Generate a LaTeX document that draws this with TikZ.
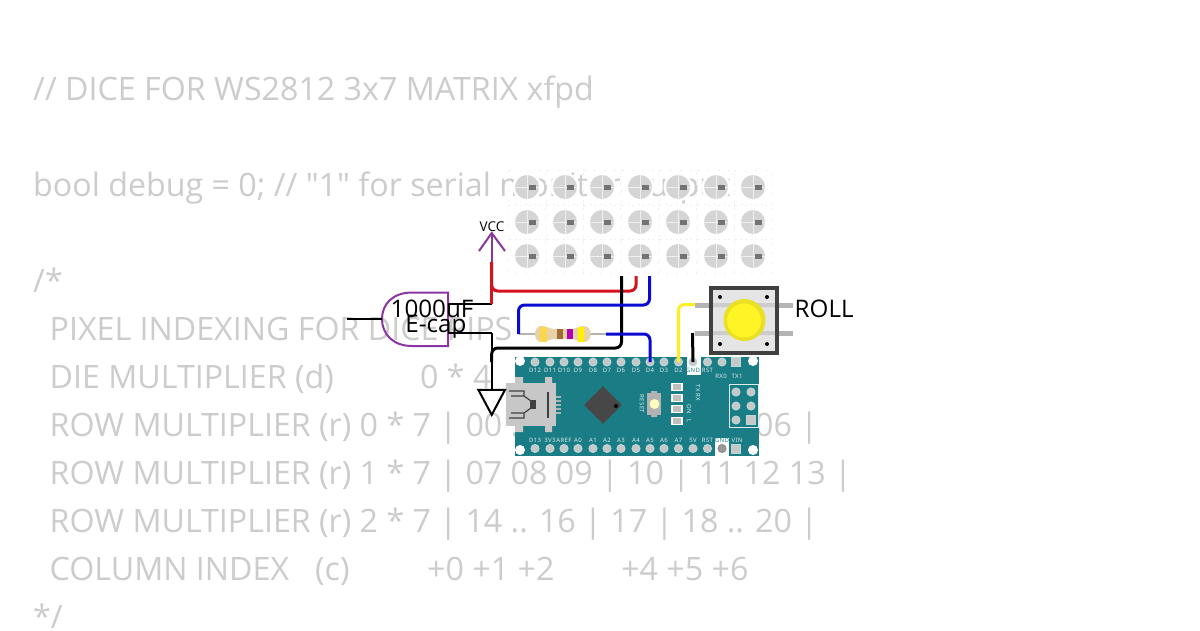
\documentclass[tikz,border=0pt]{standalone}
\usepackage{fontspec}
\setmainfont{Open Sans}
\newfontfamily\codefont{Open Sans}
\newfontfamily\silkfont{Noto Sans}[LetterSpace=6]
\usetikzlibrary{shapes.geometric}
\definecolor{codegray}{HTML}{CCCCCC}
\definecolor{boardteal}{HTML}{1A7D85}
\definecolor{capviolet}{HTML}{8A35A0}
\definecolor{wirered}{HTML}{D8121C}
\definecolor{wireblue}{HTML}{0A0AD2}
\definecolor{wireyellow}{HTML}{FFEE22}
\definecolor{pingray}{HTML}{B4B4B4}
\definecolor{silk}{HTML}{DCEBEC}
\definecolor{restan}{HTML}{E8D3A8}
\tikzstyle{code}=[anchor=base west,inner sep=0,text=codegray,font=\codefont\fontsize{32.2}{32}\selectfont]
\tikzstyle{label}=[inner sep=0,text=black,font=\fontsize{24.2}{24}\selectfont,anchor=base]
\tikzstyle{wire}=[line width=3pt,rounded corners=6pt]
\tikzstyle{lead}=[line width=2pt,draw=black]
\tikzstyle{led disc}=[circle,inner sep=0,minimum size=24pt,fill=black!17]
\tikzstyle{pin}=[circle,inner sep=0,minimum size=8pt,fill=black!22,draw=white!70!boardteal,line width=1pt]
\tikzstyle{silk text}=[inner sep=0,text=silk,font=\silkfont\bfseries\fontsize{6}{6}\selectfont]
\tikzstyle{board led}=[fill=black!25,draw=white,line width=1.5pt]
\begin{document}
\begin{tikzpicture}[x=1pt,y=-1pt,line cap=butt]
  \useasboundingbox (0,0) rectangle (1200,630);
  \fill[white] (0,0) rectangle (1200,630);

  % sketch text behind the parts
  \node[code] (line1) at (33,100) {// DICE FOR WS2812 3x7 MATRIX xfpd};
  \node[code] (line2) at (33,196) {bool debug = 0; // "1" for serial monitor output};
  \node[code] (line3) at (33,292) {/*};
  \node[code] (line4) at (49.5,340) {PIXEL INDEXING FOR DICE PIPS};
  \node[code] (line5) at (49.5,388) {DIE MULTIPLIER (d)};
  \node[code] (line5b) at (420,388) {0 * 4};
  \node[code] (line6) at (49.5,436) {ROW MULTIPLIER (r) 0 * 7 | 00 .. 02 | 03 | 04 .. 06 |};
  \node[code] (line7) at (49.5,484) {ROW MULTIPLIER (r) 1 * 7 | 07 08 09 | 10 | 11 12 13 |};
  \node[code] (line8) at (49.5,532) {ROW MULTIPLIER (r) 2 * 7 | 14 .. 16 | 17 | 18 .. 20 |};
  \node[code] (line9) at (49.5,580) {COLUMN INDEX};
  \node[code] (line9b) at (315,580) {(c)};
  \node[code] (line9c) at (427,580) {+0 +1 +2};
  \node[code] (line9d) at (621,580) {+4 +5 +6};
  \node[code] (line10) at (33,628) {*/};

  % led matrix
  \foreach \r/\y in {0/187,1/222,2/256}
    \foreach \c/\x in {0/527,1/565,2/602,3/640,4/678,5/716,6/753} {
      \fill[white] (\x,\y) circle (14.5);
      \draw[black!6,line width=.7pt,dash pattern=on 2pt off 8pt] (\x-18.5,\y-17) rectangle (\x+18.5,\y+17);
      \node[led disc] (led\r\c) at (\x,\y) {};
      \draw[black!6,line width=.8pt] (led\r\c.west) -- (led\r\c.east) (led\r\c.north) -- (led\r\c.south);
      \fill[black!55] (\x+2,\y-2.5) rectangle (\x+9,\y+2.5);
    }
  \coordinate (ledGnd) at (621.5,276);
  \coordinate (ledVcc) at (636,276);
  \coordinate (ledDin) at (649.5,276);

  % nano board
  \fill[boardteal] (514.5,356.5) rectangle (759,455.5);
  \fill[white] (687,356.5) rectangle (701,375);
  \fill[white] (715,438) rectangle (729,455.5);
  \foreach \n/\x/\t in {12/535/D12,11/550/D11,10/564/D10,9/578/D9,8/593/D8,7/607/D7,6/621/D6,5/636/D5,4/650/D4,3/664/D3,2/678.5/D2,1/693/GND,0/707.5/RST} {
    \node[pin] (pin\t) at (\x,362) {};
    \ifnum\n=1
      \node[silk text,text=boardteal] (txt\t) at (\x,370.5) {\t};
    \else
      \node[silk text] (txt\t) at (\x,370.5) {\t};
    \fi
  }
  \node[pin] (pinRX) at (722,362) {};
  \node[pin,rectangle,minimum size=9pt] (pinTX) at (736,362) {};
  \node[silk text] (txtRX) at (721,376) {RX0};
  \node[silk text] (txtTX) at (737,376) {TX1};
  \foreach \x/\t in {535/D13,550/3V3,564/AREF,578/A0,593/A1,607/A2,621/A3,636/A4,650/A5,664/A6,678.5/A7,693/5V,707.5/RST} {
    \node[pin] (low\t) at (\x,448.5) {};
    \node[silk text] (lowtxt\t) at (\x,440.5) {\t};
  }
  \node[pin,fill=black!40,draw=black!45] (lowGND) at (722,448.5) {};
  \node[silk text,text=boardteal] (lowtxtGND) at (722,440.5) {GND};
  \node[pin,rectangle,minimum size=9pt] (lowVIN) at (736,448.5) {};
  \node[silk text] (lowtxtVIN) at (737,440.5) {VIN};
  \foreach \x/\y in {520/361,520/450,753/361,753/450}
    \fill[white] (\x,\y) circle (5);

  % icsp header
  \draw[silk,line width=.8pt] (729.5,384) rectangle (758,427);
  \foreach \x/\y in {736/392,751/392,736/406,751/406,736/420}
    \node[pin] (icsp\x\y) at (\x,\y) {};
  \node[pin,rectangle,minimum size=9pt] (icsp751420) at (751,420) {};

  % mcu, usb, reset, status leds
  \node[diamond,fill=black!72,inner sep=0,minimum size=38pt] (mcu) at (603,405) {};
  \fill[black] (616,406) circle (2);
  \fill[black!22] (515,377) rectangle (523,383) (545,377) rectangle (552,383)
    (515,426) rectangle (523,432) (545,426) rectangle (552,432);
  \foreach \y in {397,401,405,409,413}
    \fill[black!30] (556,\y-1) rectangle (561,\y+1);
  \fill[black!22] (506,383) rectangle (556,426);
  \draw[black!75,line width=1.3pt] (548,392) -- (548,418);
  \draw[black!75,line width=1.2pt] (509,391) -- (524,391) -- (524,396) -- (511,396)
    (509,418) -- (524,418) -- (524,413) -- (511,413)
    (524,396) -- (531,401) (524,413) -- (531,408);
  \fill[black!75] (530,400) rectangle (536,409);
  \fill[black!30] (651,391) rectangle (657,393) (651,415) rectangle (657,417);
  \fill[black!30] (647,393) rectangle (661,415);
  \fill[yellow!25!white] (654.5,404) circle (5);
  \node[silk text,rotate=-90] (txtReset) at (642,404) {RESET};
  \foreach \y in {387,398,409,421}
    \draw[board led] (672,\y-3.5) rectangle (682,\y+3.5);
  \node[silk text,rotate=-90] (txtTXRX) at (698,393) {TX RX};
  \node[silk text,rotate=-90] (txtON) at (689,409) {ON};
  \node[silk text,rotate=-90] (txtL) at (689,421) {L};

  % roll button
  \foreach \y in {305,333} {
    \draw[pingray,line width=5pt] (695,\y) -- (793,\y);
  }
  \coordinate (btnA) at (695,304.5);
  \coordinate (btnB) at (692.5,333);
  \fill[black!10] (711,288) rectangle (777,353);
  \fill[black!20] (711,303) rectangle (777,307) (711,331) rectangle (777,335);
  \draw[black!75,line width=4pt] (711,288) rectangle (777,353);
  \foreach \x/\y in {720/297,767/297,720/344,767/344}
    \fill[black] (\x,\y) circle (2);
  \fill[yellow!90!black!95!white] (744.5,320) circle (21);
  \fill[yellow!85!white] (744,320.5) circle (17);
  \node[label,anchor=base west] (rollLabel) at (794.5,317) {ROLL};

  % resistor
  \coordinate (resA) at (518.5,334);
  \coordinate (resB) at (606,334);
  \draw[pingray,line width=2.5pt] (resA) -- (resB);
  \fill[restan] (541,326) .. controls (533,326) and (533,342) .. (541,342)
    .. controls (548,342) and (549,339) .. (553,339) -- (573,339)
    .. controls (577,339) and (578,342) .. (584,342)
    .. controls (593,342) and (593,326) .. (584,326)
    .. controls (578,326) and (577,329) .. (573,329) -- (553,329)
    .. controls (549,329) and (548,326) .. (541,326) -- cycle;
  \fill[yellow!60!orange!70!white] (540,326.5) rectangle (547,341.5);
  \fill[brown!85!black] (557,329) rectangle (563,339);
  \fill[violet!60!magenta] (567,329) rectangle (573,339);
  \fill[yellow] (578,326.5) rectangle (584,341.5);

  % e-cap
  \coordinate (capIn) at (347,318.5);
  \coordinate (capBack) at (382,318.5);
  \coordinate (capPlus) at (448,304);
  \coordinate (capMinus) at (448,333);
  \coordinate (vccJoin) at (491.7,304);
  \coordinate (vccLow) at (491.7,262);
  \coordinate (vccTip) at (491.7,233);
  \coordinate (gndJoin) at (491.7,333);
  \draw[capviolet,line width=2pt]
    (448,292.5) -- (412,292.5) .. controls (393,292.5) and (382,304) .. (382,319)
    .. controls (382,334) and (393,346) .. (412,346) -- (448,346) -- cycle;
  \draw[lead] (capIn) -- (capBack);
  \draw[lead] (capPlus) -- (vccJoin);
  \draw[lead] (capMinus) -- (gndJoin);
  \draw[lead] (gndJoin) -- (491.7,392);
  \node[label] (capValue) at (432,317) {1000uF};
  \node[label] (capName) at (436,332) {E-cap};

  % vcc and ground
  \draw[capviolet,line width=2pt] (vccLow) -- (vccTip);
  \draw[capviolet,line width=2pt] (479,251) -- (vccTip) -- (505,251);
  \node[inner sep=0,anchor=base,font=\fontsize{13.5}{14}\selectfont] (vccLabel) at (492,231) {VCC};
  \node[isosceles triangle,isosceles triangle apex angle=56,shape border rotate=-90,draw=black,
    fill=white,line width=2pt,inner sep=0,minimum height=25pt,anchor=apex] (gndSym) at (491.7,417) {};

  % wires
  \coordinate (railRed) at (491.7,291);
  \draw[wire,wirered] (ledVcc) -- (ledVcc |- railRed) -- (railRed) -- (vccLow);
  \draw[wirered,line width=3pt] (vccLow) -- (vccJoin);
  \coordinate (railBlack) at (491.7,348);
  \draw[wire,black] (ledGnd) -- (ledGnd |- railBlack) -- (railBlack) -- (491.7,362);
  \coordinate (railBlue) at (518.5,305);
  \draw[wire,wireblue] (ledDin) -- (ledDin |- railBlue) -- (railBlue) -- (resA);
  \draw[wire,wireblue] (resB) -- (resB -| pinD4) -- (pinD4.center);
  \draw[wire,wireyellow] (btnA) -| (pinD2.center);
  \draw[wire,black] (btnB) -- (pinGND.center);
\end{tikzpicture}
\end{document}
